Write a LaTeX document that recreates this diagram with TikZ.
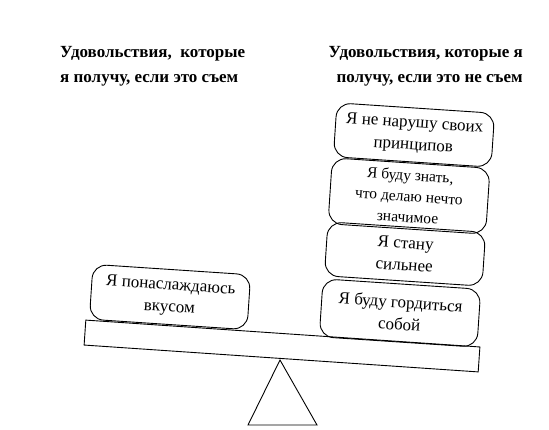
\documentclass[tikz,border=0pt]{standalone}
\usepackage{fontspec}
\setmainfont{Liberation Serif}
\begin{document}
\begin{tikzpicture}[x=1pt,y=-1pt,
  pill/.style={draw, line width=0.9pt, rounded corners=14pt, align=center,
    font=\fontsize{17}{22}\selectfont, minimum width=158pt, minimum height=55pt,
    inner sep=1pt, rotate=-3.8},
  head/.style={font=\bfseries\fontsize{17}{25}\selectfont, inner sep=0pt}]
\useasboundingbox (0,0) rectangle (549,429);
\node[head, align=left, anchor=north west] (hl) at (60,46) {Удовольствия,\ \ которые\\я получу, если это съем};
\node[head, align=right, anchor=north east] (hr) at (523,46) {Удовольствия, которые я\\получу, если это не съем};
\node[draw, line width=0.9pt, minimum width=395pt, minimum height=25pt, rotate=-3.9, inner sep=0pt] (beam) at (282,346) {};
\draw[line width=0.9pt] (280,360) -- (248,425) -- (317,425) -- cycle;
\node[pill] (l1) at (170,297) {Я понаслаждаюсь\\вкусом};
\node[pill, minimum height=54pt] (r1) at (414,135) {Я не нарушу своих\\принципов};
\node[pill, minimum height=66pt, inner sep=0pt, font=\fontsize{15.5}{21}\selectfont] (r2) at (409,196) {Я буду знать,\\что делаю нечто\\значимое};
\node[pill, minimum height=54pt] (r3) at (405,254) {Я стану\\сильнее};
\node[pill, minimum height=58pt] (r4) at (400,313) {Я буду гордиться\\собой};
\end{tikzpicture}
\end{document}
